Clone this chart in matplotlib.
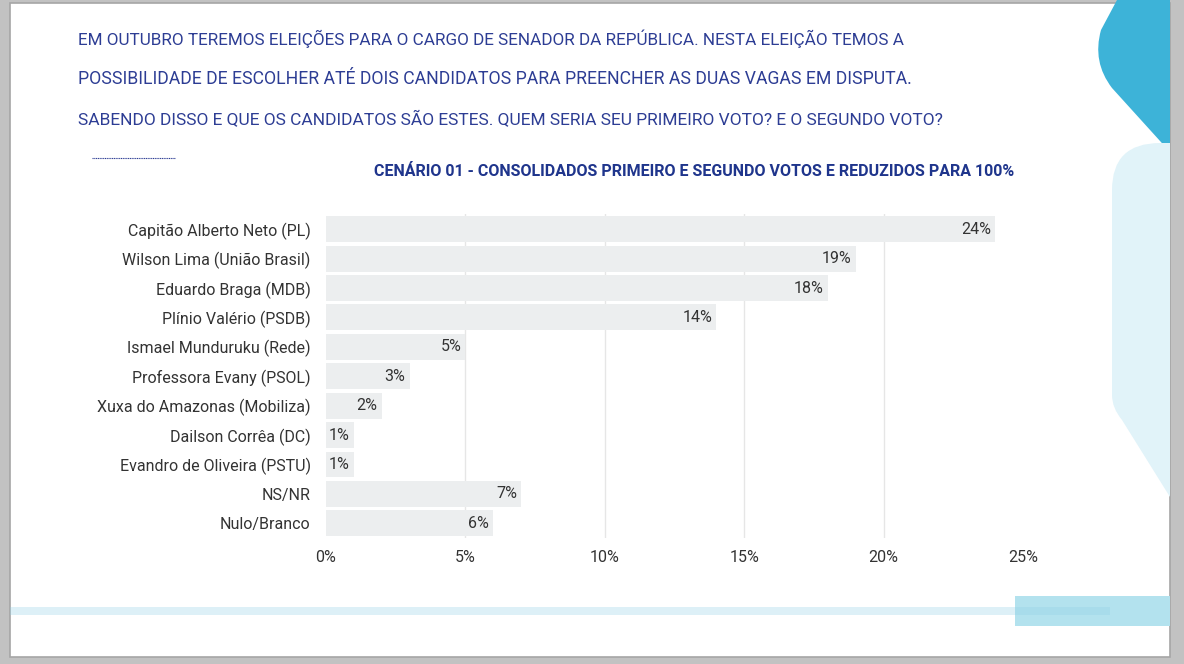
import matplotlib
matplotlib.use('Agg')
import matplotlib.pyplot as plt
import matplotlib.transforms as mtransforms
from matplotlib.patches import Rectangle, PathPatch
from matplotlib.path import Path
from matplotlib.lines import Line2D

# dados
candidatos = [
    'Capitão Alberto Neto (PL)',
    'Wilson Lima (União Brasil)',
    'Eduardo Braga (MDB)',
    'Plínio Valério (PSDB)',
    'Ismael Munduruku (Rede)',
    'Professora Evany (PSOL)',
    'Xuxa do Amazonas (Mobiliza)',
    'Dailson Corrêa (DC)',
    'Evandro de Oliveira (PSTU)',
    'NS/NR',
    'Nulo/Branco',
]
percentuais = [24, 19, 18, 14, 5, 3, 2, 1, 1, 7, 6]
ticks_x = [0, 5, 10, 15, 20, 25]

pergunta = [
    'EM OUTUBRO TEREMOS ELEIÇÕES PARA O CARGO DE SENADOR DA REPÚBLICA. NESTA ELEIÇÃO TEMOS A',
    'POSSIBILIDADE DE ESCOLHER ATÉ DOIS CANDIDATOS PARA PREENCHER AS DUAS VAGAS EM DISPUTA.',
    'SABENDO DISSO E QUE OS CANDIDATOS SÃO ESTES. QUEM SERIA SEU PRIMEIRO VOTO? E O SEGUNDO VOTO?',
]
subtitulo = 'CENÁRIO 01 - CONSOLIDADOS PRIMEIRO E SEGUNDO VOTOS E REDUZIDOS PARA 100%'

W, H = 1184, 664
fonte = ['Roboto', 'DejaVu Sans']
azul = '#2d3d94'

fig = plt.figure(figsize=(W / 100, H / 100), dpi=100)
fig.patch.set_facecolor('#c2c2c2')
renderer = fig.canvas.get_renderer()

# transformação em pixels (y para baixo)
px = mtransforms.Affine2D().scale(1 / W, -1 / H).translate(0, 1) + fig.transFigure


def ajusta(txt, largura):
    # ajusta o tamanho da fonte para a largura em pixels
    for _ in range(3):
        w = txt.get_window_extent(renderer).width
        txt.set_fontsize(txt.get_fontsize() * largura / w)


# fundo do slide
fig.add_artist(Rectangle((10, 3), 1160, 654, transform=px, facecolor='white',
                         edgecolor='#a6a6a6', lw=1.2, zorder=0))

# formas decorativas
escura = Path([(1117, 0), (1170, 0), (1170, 152), (1112, 88), (1092, 62), (1101, 30), (1117, 0)],
              [Path.MOVETO, Path.LINETO, Path.LINETO, Path.LINETO, Path.CURVE3, Path.CURVE3, Path.CLOSEPOLY])
fig.add_artist(PathPatch(escura, transform=px, facecolor='#3db3d8', edgecolor='none', zorder=1))

clara = Path([(1112, 400), (1112, 190), (1112, 143), (1160, 143), (1170, 143), (1170, 497),
              (1122, 420), (1112, 408), (1112, 395), (1112, 400)],
             [Path.MOVETO, Path.LINETO, Path.CURVE3, Path.CURVE3, Path.LINETO, Path.LINETO,
              Path.LINETO, Path.CURVE3, Path.CURVE3, Path.CLOSEPOLY])
fig.add_artist(PathPatch(clara, transform=px, facecolor='#e1f3f9', edgecolor='none', zorder=1))

fig.add_artist(Rectangle((1015, 596), 155, 30, transform=px, facecolor='#b3e2ee',
                         edgecolor='none', zorder=1))
fig.add_artist(Rectangle((10, 607), 1100, 8, transform=px, facecolor='#8fd0e6',
                         alpha=0.3, edgecolor='none', zorder=2))

# linha pontilhada
fig.add_artist(Line2D([92, 175], [158, 158], transform=px, color=azul, lw=0.8,
                      linestyle=(0, (1, 0.6)), zorder=2))

# textos do topo
fins = [905, 913, 938]
for i, linha in enumerate(pergunta):
    t = fig.text(78 / W, 1 - (39 + i * 40.5) / H, linha, family=fonte, fontsize=14,
                 color=azul, va='center', ha='left')
    ajusta(t, fins[i] - 78)

t = fig.text(1014 / W, 1 - 172 / H, subtitulo, family=fonte, fontsize=13, fontweight='bold',
             color='#1f358c', va='center', ha='right')
ajusta(t, 1014 - 377)

# gráfico de barras
ax = fig.add_axes([326 / W, 1 - 538 / H, (1023 - 326) / W, 323.5 / H])
ax.set_facecolor('none')
y = list(range(len(candidatos)))
ax.barh(y, percentuais, height=0.88, color='#eceeef', zorder=2)
ax.set_ylim(len(candidatos) - 0.5, -0.5)
ax.set_xlim(0, 25)

for v in ticks_x[1:-1]:
    ax.axvline(v, color='#e6e6e6', lw=1, zorder=1)

for yi, v in zip(y, percentuais):
    ax.text(v - 0.15, yi, f'{v}%', ha='right', va='center', family=fonte,
            fontsize=11.5, color='#333333', zorder=3)

ax.set_yticks(y)
ax.set_yticklabels(candidatos, family=fonte, fontsize=11.5, color='#333333')
ax.set_xticks(ticks_x)
ax.set_xticklabels([f'{t}%' for t in ticks_x], family=fonte, fontsize=11.5, color='#333333')
ax.tick_params(axis='both', length=0)
ax.tick_params(axis='y', pad=11)
ax.tick_params(axis='x', pad=9)
for s in ax.spines.values():
    s.set_visible(False)

fig.savefig('out.png', dpi=100, facecolor=fig.get_facecolor())
